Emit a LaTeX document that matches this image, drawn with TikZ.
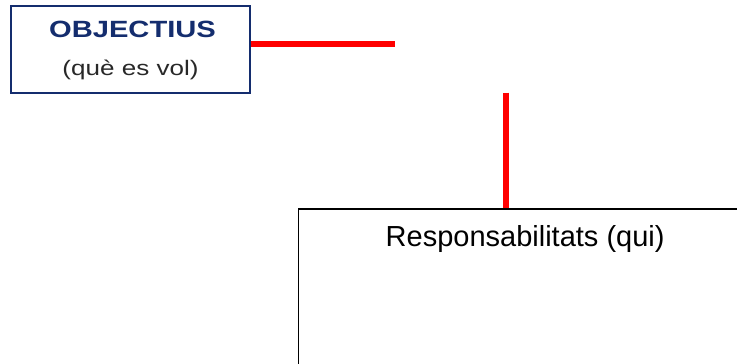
\documentclass[tikz,border=0pt]{standalone}
\usepackage{fontspec}
\setmainfont{Liberation Sans}
\newfontfamily\widefont[FakeStretch=1.24]{Liberation Sans}
\usetikzlibrary{positioning}
\definecolor{navy}{RGB}{20,45,110}
\definecolor{textgrey}{RGB}{40,40,40}
\definecolor{linkred}{RGB}{255,0,0}
\tikzset{
    goalbox/.style={draw=navy, line width=2pt, fill=white, minimum width=239pt, minimum height=87pt, inner sep=0pt},
    areabox/.style={draw=black, line width=1.3pt, minimum width=453pt, minimum height=220pt, anchor=north west, inner sep=0pt},
    link/.style={draw=linkred, line width=6pt}
}
\begin{document}
\begin{tikzpicture}[x=1pt,y=-1pt]
  \useasboundingbox (0,0) rectangle (737,364);
  \clip (0,0) rectangle (737,364);
  % objectius
  \node [goalbox] (goal) at (130.5,49.5) {};
  \node [anchor=base, text=navy, font=\widefont\bfseries\fontsize{23.5}{24}\selectfont] (goaltitle) at (132.5,37.3) {OBJECTIUS};
  \node [anchor=base, text=textgrey, font=\widefont\fontsize{21}{22}\selectfont] (goalsub) at (130.5,75) {(què es vol)};
  % responsabilitats
  \node [areabox] (resp) at (298,208.3) {};
  \node [anchor=base, font=\fontsize{29}{31}\selectfont] (resptitle) at (resp.north |- 0,246.7) {Responsabilitats (qui)};
  % links
  \coordinate (goalend) at (395,43.5);
  \draw [link] (goal.east |- goalend) -- (goalend);
  \coordinate (respstart) at (505.7,92.7);
  \draw [link] (respstart) -- (respstart |- resp.north);
\end{tikzpicture}
\end{document}
